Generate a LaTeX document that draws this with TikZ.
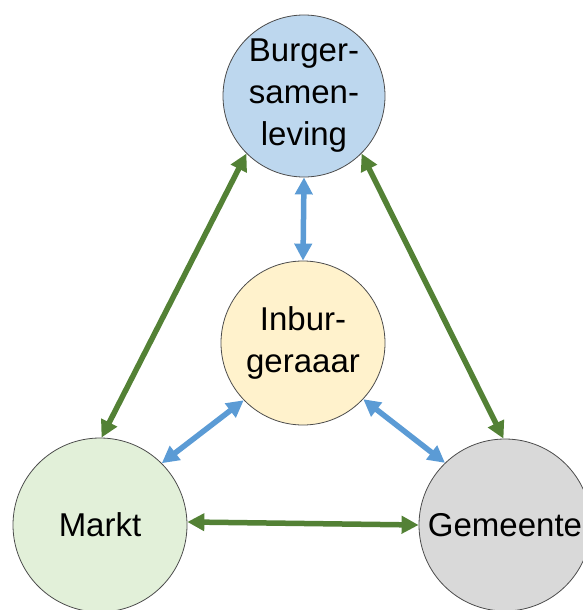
\documentclass[tikz,border=0pt]{standalone}
\usepackage{fontspec}
\setmainfont{Liberation Sans}
\usetikzlibrary{arrows.meta}
\definecolor{cBurger}{HTML}{BDD7EE}
\definecolor{cInb}{HTML}{FFF2CC}
\definecolor{cMarkt}{HTML}{E2F0D9}
\definecolor{cGem}{HTML}{D9D9D9}
\definecolor{cGreen}{HTML}{538135}
\definecolor{cBlue}{HTML}{5B9BD5}
\begin{document}
\begin{tikzpicture}[x=1pt,y=1pt,
  circ/.style={circle, draw=black!70, line width=0.8pt, minimum size=#1, inner sep=0pt,
    align=center, font=\fontsize{33}{42}\selectfont},
  greenlink/.style={draw=cGreen, line width=5.5pt,
    {Triangle[length=17pt,width=17pt]}-{Triangle[length=17pt,width=17pt]}},
  bluelink/.style={draw=cBlue, line width=5.5pt,
    {Triangle[length=17pt,width=17pt]}-{Triangle[length=17pt,width=17pt]}}]
\useasboundingbox (0,0) rectangle (582,-610);
\node[circ=162pt, fill=cBurger] (burger) at (304,-96) {Burger-\\samen-\\leving};
\node[circ=164pt, fill=cInb] (inb) at (303,-343) {Inbur-\\geraaar};
\node[circ=174pt, fill=cMarkt] (markt) at (100,-525) {Markt};
\node[circ=172pt, fill=cGem] (gem) at (505,-525) {Gemeente};
\draw[greenlink] (markt.89) -- (burger.225);
\draw[greenlink] (burger.-45) -- (gem.91);
\draw[greenlink] (markt.2) -- (gem.180);
\draw[bluelink] (burger.-90) -- (inb.90);
\draw[bluelink] (markt.45) -- (inb.224);
\draw[bluelink] (inb.-43) -- (gem.134);
\end{tikzpicture}
\end{document}
